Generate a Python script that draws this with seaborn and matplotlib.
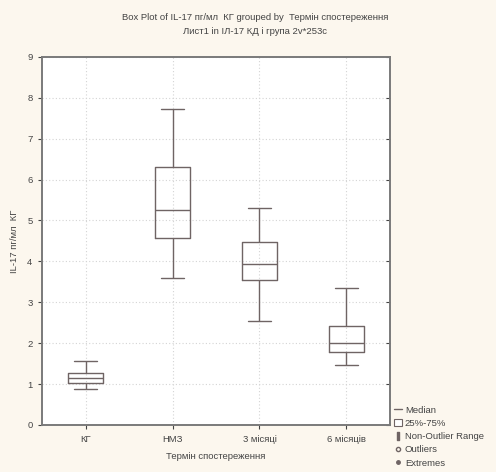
import numpy as np
import pandas as pd
import matplotlib
matplotlib.use("Agg")
import matplotlib.pyplot as plt
import seaborn as sns
from matplotlib.lines import Line2D
from matplotlib.patches import Patch

# Five-number summaries: min, Q1, median, Q3, max
groups = ["КГ", "НМЗ", "3 місяці", "6 місяців"]
kg_vals = [0.87, 1.02, 1.16, 1.28, 1.56]
nmz_vals = [3.60, 4.58, 5.26, 6.30, 7.73]
m3_vals = [2.53, 3.55, 3.94, 4.48, 5.30]
m6_vals = [1.47, 1.79, 2.01, 2.42, 3.34]
y_ticks = list(range(0, 10))

title_line1 = "Box Plot of IL-17 пг/мл  КГ grouped by  Термін спостереження"
title_line2 = "Лист1 in IЛ-17 КД і група 2v*253c"
y_label = "IL-17 пг/мл  КГ"
x_label = "Термін спостереження"
legend_labels = ["Median", "25%-75%", "Non-Outlier Range", "Outliers", "Extremes"]

df = pd.DataFrame({
    "group": np.repeat(groups, 5),
    "value": kg_vals + nmz_vals + m3_vals + m6_vals,
})

sns.set_theme(style="white")
plt.rcParams["font.family"] = ["Liberation Sans", "DejaVu Sans"]

bg = "#fcf7ee"
line_col = "#6f6464"
txt_col = "#444444"
fig = plt.figure(figsize=(4.96, 4.72), dpi=100, facecolor=bg)
ax = fig.add_axes([0.085, 0.0996, 0.701, 0.780])
ax.set_facecolor("white")

sns.boxplot(data=df, x="group", y="value", order=groups, ax=ax,
            whis=(0, 100), width=0.4, fill=False, color=line_col,
            linecolor=line_col, linewidth=1.0, capwidths=0.27)

ax.set_xlim(-0.5, 3.5)
ax.set_ylim(0, 9)
ax.set_yticks(y_ticks)
ax.set_yticklabels([str(t) for t in y_ticks])
ax.grid(True, axis="both", color="#d4d4d4", linestyle=(0, (1, 2)), linewidth=0.8)
ax.set_axisbelow(True)
for s in ax.spines.values():
    s.set_color("#7a7a7a")
    s.set_linewidth(1.4)
ax.tick_params(axis="both", which="both", labelsize=6.8, colors=txt_col,
               length=3, width=0.8, direction="out", pad=4,
               left=True, bottom=True)
ax.yaxis.set_ticks_position("both")
ax.tick_params(axis="y", which="both", right=True)
for t in ax.yaxis.get_major_ticks():
    t.tick2line.set_marker(0)  # inward-pointing on right side
ax.set_xlabel(x_label, fontsize=6.8, color=txt_col, labelpad=6)
ax.set_ylabel(y_label, fontsize=6.8, color=txt_col, labelpad=6)

fig.text(0.515, 0.962, title_line1, ha="center", va="center", fontsize=6.8, color=txt_col)
fig.text(0.515, 0.934, title_line2, ha="center", va="center", fontsize=6.8, color=txt_col)

handles = [
    Line2D([], [], color=line_col, lw=1.0),
    Patch(facecolor="white", edgecolor=line_col, lw=0.8),
    Line2D([], [], color=line_col, marker="$\\mathsf{I}$", linestyle="none", markersize=6),
    Line2D([], [], color=line_col, marker="o", fillstyle="none", linestyle="none", markersize=3),
    Line2D([], [], color=line_col, marker="o", linestyle="none", markersize=2.5),
]
fig.legend(handles, legend_labels, loc="lower left", bbox_to_anchor=(0.782, -0.005),
           frameon=False, fontsize=6.8, handlelength=0.8, handletextpad=0.3,
           labelspacing=0.45, borderpad=0.2, labelcolor=txt_col)

fig.savefig("out.png", dpi=100, facecolor=bg)
